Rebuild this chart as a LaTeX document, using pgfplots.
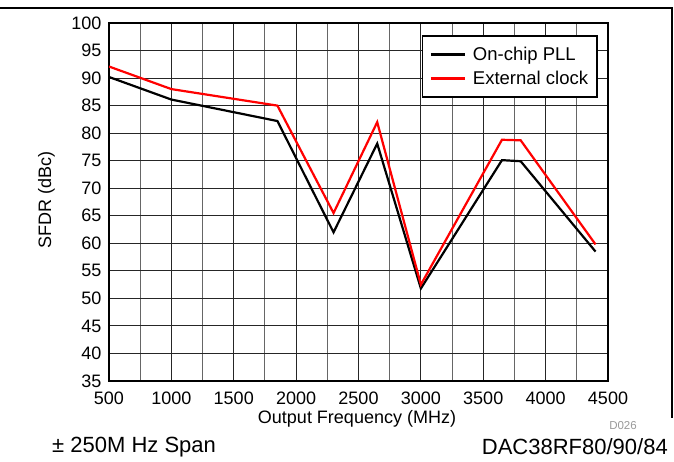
\documentclass[border=0pt]{standalone}
\usepackage{fontspec}
\setmainfont{Liberation Sans}
\usepackage{pgfplots}
\pgfplotsset{compat=1.18}
\definecolor{tired}{RGB}{255,0,0}
\begin{document}
\begin{tikzpicture}
% picture pixel (px,py) -> (px-109, 381-py) pt
\path[use as bounding box] (-109pt,381pt) rectangle (565pt,-80pt);
\draw[line width=1.3pt] (-109pt,373pt) -- (563pt,373pt) -- (563pt,-37pt);
\begin{axis}[
  at={(0pt,0pt)}, anchor=south west,
  scale only axis, width=499pt, height=358pt,
  xmin=500, xmax=4500, ymin=35, ymax=100,
  xtick={500,1000,...,4500}, ytick={35,40,...,100},
  minor x tick num=1,
  grid=both,
  major grid style={black!85, line width=0.9pt},
  minor grid style={black!60, line width=0.9pt},
  axis line style={line width=2.2pt},
  tick style={draw=none},
  /pgf/number format/assume math mode=true,
  /pgf/number format/set thousands separator={},
  ticklabel style={font=\fontsize{18}{20}\selectfont},
  yticklabel style={xshift=-4pt},
  xticklabel style={yshift=-7pt},
  legend style={at={(0.98,0.966)}, anchor=north east, draw=black, line width=1.8pt,
    font=\fontsize{18.5}{22}\selectfont, inner xsep=7pt, inner ysep=9pt,
    cells={anchor=west}, row sep=5pt, column sep=5pt},
  legend image code/.code={\draw[#1, line width=2.4pt] (0pt,0pt) -- (34pt,0pt);},
]
\addplot[black, line width=2.2pt] coordinates {
(500,90.2) (1000,86.1) (1850,82.2) (2300,62) (2650,78.1) (3000,51.8)
(3650,75.1) (3800,74.9) (4400,58.5)};
\addlegendentry{On-chip PLL}
\addplot[tired, line width=2.2pt] coordinates {
(500,92.1) (1000,88) (1850,85) (2300,65.5) (2650,82) (3000,52.5)
(3650,78.8) (3800,78.7) (4400,59.8)};
\addlegendentry{External clock}
\end{axis}
\node[rotate=90, font=\fontsize{18}{20}\selectfont] at (-62.5pt,181pt) {SFDR (dBc)};
\node[font=\fontsize{18}{20}\selectfont] at (248pt,-38pt) {Output Frequency (MHz)};
\node[font=\fontsize{11.5}{12}\selectfont, text=black!40] at (514pt,-45pt) {D026};
\node[font=\fontsize{22}{24}\selectfont, anchor=west, inner sep=0pt] at (-57pt,-66pt) {± 250M Hz Span};
\node[font=\fontsize{22}{24}\selectfont, anchor=east, inner sep=0pt] at (559pt,-66pt) {DAC38RF80/90/84};
\end{tikzpicture}
\end{document}
